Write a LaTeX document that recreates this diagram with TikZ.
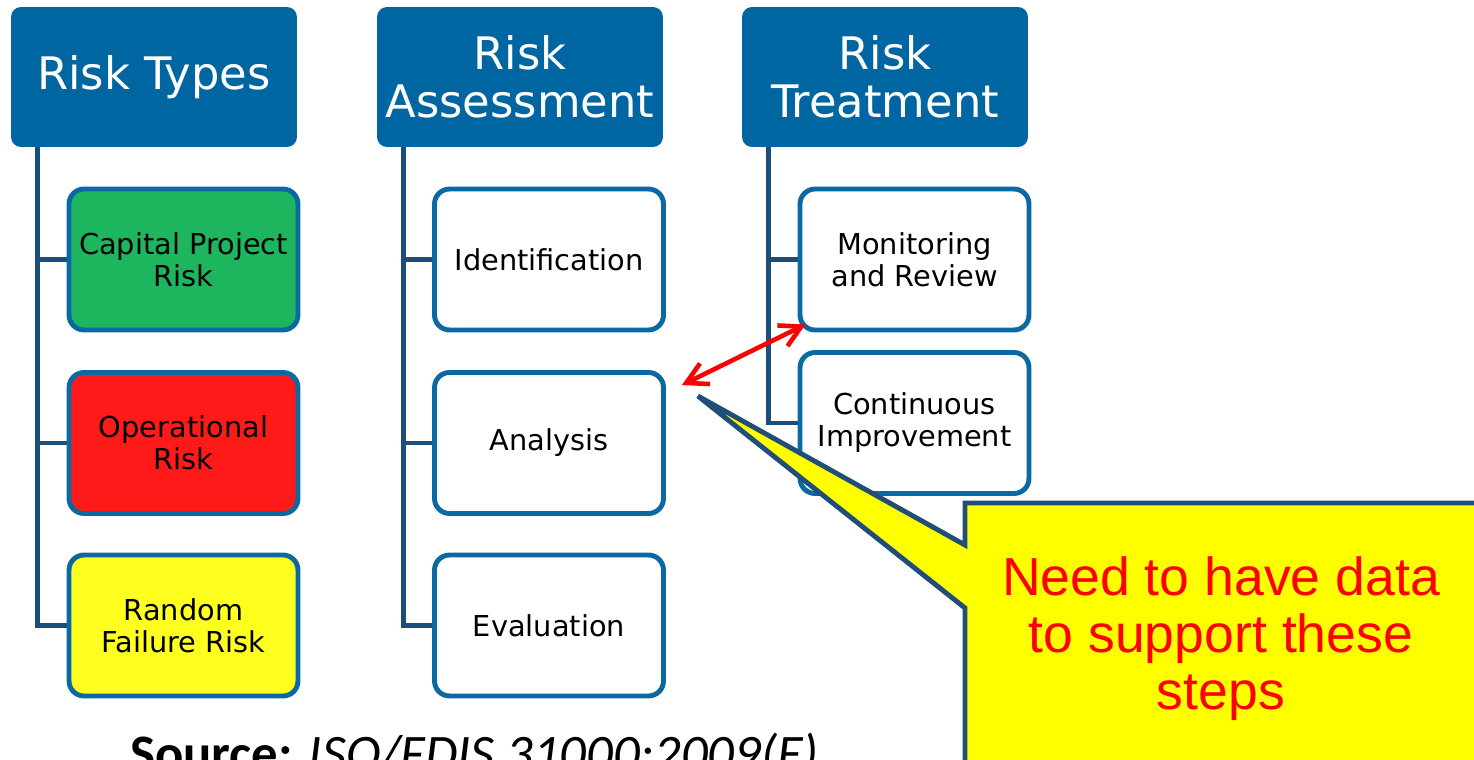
\documentclass[tikz,border=0pt]{standalone}
\usepackage{fontspec}
\setmainfont{DejaVu Sans}
\newfontfamily\callfont{Liberation Sans}
\newfontfamily\srcfont{Carlito}
\usetikzlibrary{arrows.meta,calc}
\pgfdeclarelayer{background}
\pgfsetlayers{background,main}
\definecolor{hdrblue}{HTML}{0066A1}
\definecolor{linkblue}{HTML}{1A4F7C}
\definecolor{bordblue}{HTML}{0A68A3}
\definecolor{riskgreen}{HTML}{1DB65F}
\definecolor{riskred}{HTML}{FF1A1A}
\definecolor{riskyellow}{HTML}{FFFF1F}
\definecolor{calloutline}{HTML}{1F4E79}
\definecolor{noteyellow}{HTML}{FFFF00}
\begin{document}
\begin{tikzpicture}[x=0.02cm,y=-0.02cm,
  header/.style={fill=hdrblue, rounded corners=0.2cm, minimum width=5.72cm, minimum height=2.8cm,
    text=white, font=\fontsize{25.5}{27.3}\selectfont, align=center, inner sep=0pt},
  item/.style={draw=bordblue, line width=2.8pt, rounded corners=0.3cm, minimum width=4.58cm,
    minimum height=2.82cm, fill=white, font=\fontsize{16.4}{18.2}\selectfont, align=center, inner sep=0pt},
  link/.style={draw=linkblue, line width=2.8pt},
  redarrow/.style={draw=red, line width=2.6pt, line cap=round,
    {Straight Barb[length=0.42cm,width=0.46cm]}-{Straight Barb[length=0.42cm,width=0.46cm]}},
  callout/.style={fill=noteyellow, draw=calloutline, line width=2.8pt, line join=miter},
  notetext/.style={text=red, font=\callfont\fontsize{30.5}{32.4}\selectfont, align=center},
]
\useasboundingbox (0,0) rectangle (1474,760);
\clip (0,0) rectangle (1474,760);

% headers
\node[header] (h1) at (154,77) {Risk Types};
\node[header] (h2) at (520,77) {Risk\\Assessment};
\node[header] (h3) at (885,77) {Risk\\Treatment};

% items
\node[item, fill=riskgreen] (c1) at (183.5,259.5) {Capital Project\\Risk};
\node[item, fill=riskred] (c2) at (183.5,443) {Operational\\Risk};
\node[item, fill=riskyellow] (c3) at (183.5,625.5) {Random\\Failure Risk};

\node[item] (a1) at (549,259.5) {Identification};
\node[item] (a2) at (549,443) {Analysis};
\node[item] (a3) at (549,625.5) {Evaluation};

\node[item] (t1) at (914.5,259.5) {Monitoring\\and Review};
\node[item] (t2) at (914.5,423) {Continuous\\Improvement};

% tree connectors
\coordinate (r1) at ($(h1.south west)+(27,0)$);
\coordinate (r2) at ($(h2.south west)+(27,0)$);
\coordinate (r3) at ($(h3.south west)+(27,0)$);
\begin{pgfonlayer}{background}
\draw[link] (r1) |- (c1.west);
\draw[link] (r1) |- (c2.west);
\draw[link] (r1) |- (c3.west);
\draw[link] (r2) |- (a1.west);
\draw[link] (r2) |- (a2.west);
\draw[link] (r2) |- (a3.west);
\draw[link] (r3) |- (t1.west);
\draw[link] (r3) |- (t2.west);
\end{pgfonlayer}

% red double arrow
\coordinate (ra) at ($(a2.north east)+(16,15)$);
\coordinate (rb) at ($(t1.south west)+(8,-8)$);
\draw[redarrow] (ra) -- (rb);

% callout
\coordinate (tip) at ($(a2.north east)+(32,26)$);
\draw[callout] (965,545) -- (965,503) -- (1490,503) -- (1490,775) -- (965,775) -- (965,608) -- (tip) -- cycle;
\node[notetext] (note) at (1221,639) {Need to have data\\to support these\\steps};

% source
\node[anchor=base west, inner sep=0pt, font=\srcfont\fontsize{30}{31}\selectfont] (src) at (130,771)
  {\textbf{Source:} \textit{ISO/FDIS 31000:2009(E).}};
\end{tikzpicture}
\end{document}
